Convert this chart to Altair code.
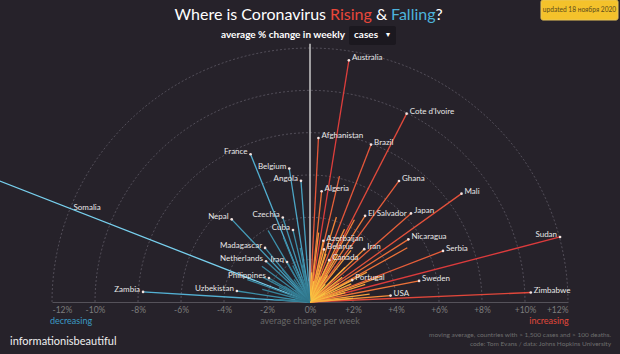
import altair as alt
import pandas as pd
import numpy as np

# ---- data ----
countries = ["Australia", "Afghanistan", "Cote d'Ivoire", "Brazil", "Ghana", "Algeria", "Mali",
             "Sudan", "Zimbabwe", "Serbia", "El Salvador", "Japan", "Nicaragua", "Azerbaijan",
             "Belarus", "Iran", "Canada", "Portugal", "Sweden", "USA",
             "Somalia", "Zambia", "France", "Belgium", "Angola", "Nepal", "Czechia", "Cuba",
             "Madagascar", "Netherlands", "Iraq", "Philippines", "Uzbekistan"]
# average % change per week (radius)
change = [11.56, 7.76, 9.97, 7.96, 7.06, 5.26, 8.71,
          12.03, 10.28, 6.64, 4.81, 6.29, 5.45, 2.96,
          2.57, 3.55, 2.17, 2.22, 5.17, 3.76,
          -17.0, -7.78, -7.51, -6.38, -5.74, -5.34, -4.19, -3.49,
          -3.30, -2.81, -2.17, -2.22, -3.44]
# spread angle from vertical (degrees)
angle = [9.0, 2.9, 26.8, 20.9, 35.9, 5.9, 54.0,
         75.2, 87.5, 68.7, 32.2, 48.3, 57.1, 12.1,
         14.7, 45.3, 24.4, 62.2, 78.9, 85.4,
         68.4, 86.5, 21.6, 8.7, 4.2, 43.0, 17.6, 13.1,
         39.3, 46.7, 29.5, 59.4, 81.3]

# unlabeled countries
other_change = [3.3, 4.2, 6.1, 2.6, 3.1, 1.9, 5.2, 2.7, 2.8, 1.6, 2.1, 1.3, 4.4, 3.6, 1.1,
                1.0, 1.5, 2.3, 1.7, 2.0, 0.8, 3.8, 2.4, 1.4, 3.0,
                -2.6, -1.9, -3.9, -1.6, -2.3, -1.3, -0.9, -2.8, -1.7, -3.1, -1.2,
                -1.0, -2.0, -1.4, -0.7, -2.5, -1.8, -3.3, -1.1]
other_angle = [7, 17, 13, 30, 38, 52, 60.5, 72, 82.3, 57, 66, 22, 28, 70, 40,
               10, 33, 45, 75, 85, 60, 25, 18, 3, 62,
               10, 25, 30, 65, 75, 35, 50, 53, 86, 70, 18,
               5, 40, 58, 80, 62, 12, 22, 70]

tick_values = list(range(-12, 13, 2))
arc_radii = [2, 4, 6, 8, 10, 12]

# ---- tables ----
df = pd.DataFrame({
    "country": countries + [""] * len(other_change),
    "change": change + other_change,
    "angle": angle + other_angle,
})
df["labeled"] = df["country"] != ""
rad = np.deg2rad(df["angle"])
df["ex"] = np.sign(df["change"]) * df["change"].abs() * np.sin(rad)
df["ey"] = df["change"].abs() * np.cos(rad)
df["zero"] = 0.0
df["mag"] = df["change"].abs()
df = df.sort_values("mag", ascending=False).reset_index(drop=True)
df["ord"] = range(len(df))

arc_rows = []
for r in arc_radii:
    for t in range(-90, 91, 2):
        arc_rows.append({"r": r, "t": t,
                         "ax": r * np.sin(np.deg2rad(t)),
                         "ay": r * np.cos(np.deg2rad(t))})
arcs_df = pd.DataFrame(arc_rows)

xsc = alt.Scale(domain=[-12, 12], nice=False, zero=False)
ysc = alt.Scale(domain=[0, 12], nice=False, zero=False)

color_scale = alt.Scale(
    domain=[-17, -8, -4, -0.01, 0.01, 3, 6, 12],
    range=["#78d0ee", "#55b3d6", "#3f93ae", "#2c6d80", "#f8d64c", "#f59b3b", "#e8623a", "#dc3b3c"],
)

FONT = "Lato"

arcs = alt.Chart(arcs_df).mark_line(
    strokeDash=[2, 2], color="#57525e", strokeWidth=0.9
).encode(
    x=alt.X("ax:Q", scale=xsc,
            axis=alt.Axis(values=tick_values,
                          labelExpr="datum.value > 0 ? '+' + datum.value + '%' : datum.value + '%'",
                          grid=False, ticks=False, domainColor="#55525a", domainWidth=1,
                          labelColor="#7d7d7d", labelFontSize=8.5, labelPadding=3,
                          labelFont=FONT, title=None)),
    y=alt.Y("ay:Q", scale=ysc, axis=None),
    detail="r:N",
    order="t:Q",
)

zero_line = alt.Chart(pd.DataFrame({"x": [0.0], "y": [0.0], "y2": [12.2]})).mark_rule(
    color="#c9c9c9", strokeWidth=1.5
).encode(x="x:Q", y="y:Q", y2="y2:Q")

lines = alt.Chart(df).mark_rule(strokeWidth=1.3).encode(
    x="zero:Q", y="zero:Q", x2="ex:Q", y2="ey:Q",
    color=alt.Color("change:Q", scale=color_scale, legend=None),
    order="ord:Q",
)

dots = alt.Chart(df).transform_filter("datum.labeled && datum.ex >= -12").mark_circle(
    size=7, color="#f2e2de", opacity=1
).encode(x="ex:Q", y="ey:Q")

lab_style = dict(fontSize=8, color="#e8e8e8", font=FONT, baseline="middle")

labels_left = alt.Chart(df).transform_filter(
    "datum.labeled && ((datum.change < 0 && datum.ex >= -12) || datum.ex > 11)"
).mark_text(align="right", dx=-3, dy=-2, **lab_style).encode(
    x="ex:Q", y="ey:Q", text="country:N")

labels_right = alt.Chart(df).transform_filter(
    "datum.labeled && datum.change > 0 && datum.ex <= 11"
).mark_text(align="left", dx=3, dy=-2, **lab_style).encode(
    x="ex:Q", y="ey:Q", text="country:N")

labels_clip = alt.Chart(df).transform_filter(
    "datum.labeled && datum.ex < -12"
).transform_calculate(
    lx="-11", ly="datum.ey * 11 / abs(datum.ex)"
).mark_text(align="left", dy=-2, **lab_style).encode(
    x="lx:Q", y="ly:Q", text="country:N")

one = pd.DataFrame({"a": [0]})


def txt(s, x, y, size, color, align="center", weight="normal", font=FONT):
    return alt.Chart(one).mark_text(
        text=s, align=align, baseline="middle", fontSize=size, color=color,
        fontWeight=weight, font=font
    ).encode(x=alt.value(x), y=alt.value(y))


def box(x, x2, y, y2, fill, stroke=None):
    kw = dict(fill=fill, cornerRadius=2)
    if stroke:
        kw.update(stroke=stroke, strokeWidth=1)
    return alt.Chart(one).mark_rect(**kw).encode(
        x=alt.value(x), x2=alt.value(x2), y=alt.value(y), y2=alt.value(y2))


OX, OY = 52, 48  # plot origin in page pixels

title_parts = [
    txt("Where is Coronavirus", 326 - OX, 15 - OY, 16, "#ffffff", align="right"),
    txt("Rising", 330 - OX, 15 - OY, 16, "#e8473a", align="left"),
    txt("&", 376 - OX, 15 - OY, 16, "#ffffff", align="left"),
    txt("Falling", 391 - OX, 15 - OY, 16, "#4db3dc", align="left"),
    txt("?", 435.5 - OX, 15 - OY, 16, "#ffffff", align="left"),
]

subtitle = [
    txt("average % change in weekly", 345 - OX, 35 - OY, 10, "#ffffff", align="right", weight="bold"),
    box(349 - OX, 396 - OX, 26 - OY, 45 - OY, "#1b181f"),
    txt("cases", 354 - OX, 35 - OY, 10, "#ffffff", align="left", weight="bold"),
    txt("▾", 388 - OX, 35 - OY, 8, "#ffffff", align="center"),
]

badge = [
    box(541 - OX, 618 - OX, 0 - OY, 20 - OY, "#f4c22b", stroke="#e9c65a"),
    txt("updated 18 ноября 2020", 579.5 - OX, 10 - OY, 6.6, "#5b4a1c"),
]

bottom = [
    txt("decreasing", 71 - OX, 321 - OY, 9, "#3b9bc4"),
    txt("average change per week", 310 - OX, 321 - OY, 9, "#686868"),
    txt("increasing", 549 - OX, 321 - OY, 9, "#e0483a"),
    txt("informationisbeautiful", 10 - OX, 342 - OY, 11, "#f0f0f0", align="left"),
    txt("moving average, countries with > 1,500 cases and > 100 deaths.", 611 - OX, 335 - OY, 6.5,
        "#6e6e6e", align="right"),
    txt("code: Tom Evans / data: Johns Hopkins University", 611 - OX, 344 - OY, 6.5,
        "#6e6e6e", align="right"),
]

chart = alt.layer(
    arcs, zero_line, lines, dots, labels_left, labels_right, labels_clip,
    *title_parts, *subtitle, *badge, *bottom
).properties(
    width=516, height=254,
    background="#26222a",
    padding={"left": 52, "top": 48, "right": 52, "bottom": 52},
    autosize=alt.AutoSizeParams(type="none"),
).configure_view(strokeWidth=0)

chart.save("out.html", embed_options={"renderer": "svg", "actions": False})
